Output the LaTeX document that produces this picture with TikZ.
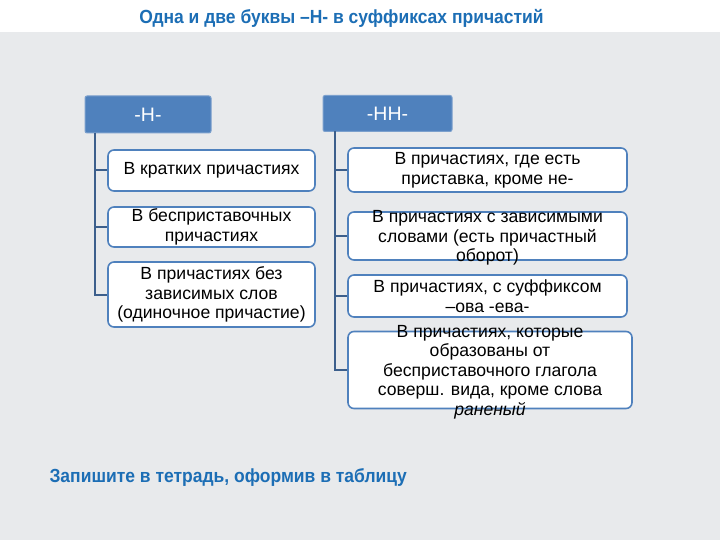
\documentclass[tikz,border=0pt]{standalone}
\usepackage{fontspec}
\setmainfont{Liberation Sans}
\newfontfamily\titlefont[FakeStretch=0.92]{Liberation Sans}
\usetikzlibrary{positioning}
\definecolor{hdrblue}{RGB}{79,129,189}
\definecolor{lineblue}{RGB}{60,95,140}
\definecolor{ttlblue}{RGB}{28,110,181}
\definecolor{wall}{RGB}{232,234,236}
\begin{document}
\begin{tikzpicture}[x=1pt,y=-1pt,
    hdr/.style={rectangle,rounded corners=2pt,draw=hdrblue!75!white,line width=1pt,fill=hdrblue,text=white,font=\fontsize{19.5}{21}\selectfont},
    item/.style={rectangle,rounded corners=6pt,draw=hdrblue,line width=1.6pt,fill=white,inner sep=0pt,align=center,font=\fontsize{17.6}{19.6}\selectfont},
    itemtext/.style={align=center,inner sep=0pt,yshift=-2pt,font=\fontsize{17.6}{19.6}\selectfont},
    heading/.style={text=ttlblue,font=\titlefont\bfseries\fontsize{19}{21}\selectfont},
    conn/.style={draw=lineblue,line width=2pt}]
    \useasboundingbox (0,0) rectangle (720,540);
    \fill [white] (0,0) rectangle (720,32);
    \fill [wall] (0,32) rectangle (720,540);
    \node [heading] (title) at (341.5,18) {Одна и две буквы –Н- в суффиксах причастий};
    % -Н-
    \node [hdr,minimum width=126pt,minimum height=37pt] (hn) at (148,114.5) {-Н-};
    \node [item,minimum width=207pt,minimum height=41pt] (l1) at (211.5,170.5) {В кратких причастиях};
    \node [item,minimum width=207pt,minimum height=40pt] (l2) at (211.5,227) {В бесприставочных\\причастиях};
    \node [item,minimum width=207pt,minimum height=65pt] (l3) at (211.5,294.5) {В причастиях без\\зависимых слов\\(одиночное причастие)};
    % -НН-
    \node [hdr,minimum width=129pt,minimum height=36pt] (hnn) at (387.5,113.5) {-НН-};
    \node [item,minimum width=279pt,minimum height=44pt] (r1) at (487.5,170) {В причастиях, где есть\\приставка, кроме не-};
    \node [item,minimum width=279pt,minimum height=48pt] (r2) at (487.5,236) {};
    \node [itemtext] (r2txt) at (r2) {В причастиях с зависимыми\\словами (есть причастный\\оборот)};
    \node [item,minimum width=279pt,minimum height=42pt] (r3) at (487.5,296) {В причастиях, с суффиксом\\–ова -ева-};
    \node [item,minimum width=284pt,minimum height=77pt] (r4) at (490,370) {};
    \node [itemtext] (r4txt) at (r4) {В причастиях, которые\\образованы от\\бесприставочного глагола\\соверш. вида, кроме слова\\\textit{раненый}};
    % connectors
    \coordinate (hnroot) at (95,133);
    \coordinate (hnnroot) at (335,131.5);
    \draw [conn] (hnroot) |- (l1.west);
    \draw [conn] (hnroot) |- (l2.west);
    \draw [conn] (hnroot) |- (l3.west);
    \draw [conn] (hnnroot) |- (r1.west);
    \draw [conn] (hnnroot) |- (r2.west);
    \draw [conn] (hnnroot) |- (r3.west);
    \draw [conn] (hnnroot) |- (r4.west);
    \node [heading,anchor=west] (note) at (46,478) {Запишите в тетрадь, оформив в таблицу};
\end{tikzpicture}
\end{document}
